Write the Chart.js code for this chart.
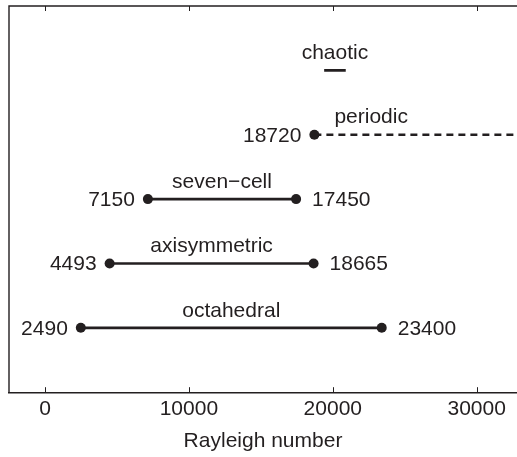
<!DOCTYPE html>
<html>
<head>
<meta charset="utf-8">
<script src="https://cdn.jsdelivr.net/npm/chart.js@4/dist/chart.umd.min.js"></script>
<style>
  html, body { margin: 0; padding: 0; background: #fff; overflow: hidden; }
  #wrap { width: 517px; height: 457px; }
</style>
</head>
<body>
<div id="wrap"><canvas id="myChart"></canvas></div>
<script>
// flow regimes, bottom row first
const regimes = ['octahedral', 'axisymmetric', 'seven\u2212cell', 'periodic', 'chaotic'];
const onsetRa = [2490, 4493, 7150, 18720, 19400];
const endRa = [23400, 18665, 17450, null, 20900]; // null = continues past the axis
const showNumbers = [true, true, true, true, false];
const tickValues = [0, 10000, 20000, 30000];

const xMin = -2500;
const xMax = 32800;
const ink = '#231f20';
const fontFamily = '"Liberation Sans", Arial, Helvetica, sans-serif';
const fontSize = 21;

const datasets = regimes.map((name, i) => {
    const open = endRa[i] === null;
    const dots = showNumbers[i];
    return {
        label: name,
        data: [
            { x: onsetRa[i], y: i + 1 },
            { x: open ? xMax : endRa[i], y: i + 1 },
        ],
        borderColor: ink,
        backgroundColor: ink,
        borderWidth: 2.6,
        borderDash: open ? [7, 5] : [],
        pointRadius: dots ? [5, open ? 0 : 5] : 0,
        pointBorderWidth: 0,
        pointBackgroundColor: ink,
    };
});

// frame, inward ticks and the text next to each regime line
const annotate = {
    id: 'annotate',
    afterDraw(chart) {
        const { ctx, chartArea, scales } = chart;
        const x = scales.x;
        const y = scales.y;
        ctx.save();
        ctx.strokeStyle = ink;
        ctx.lineWidth = 1.4;
        ctx.beginPath();
        ctx.moveTo(chartArea.left, chartArea.bottom);
        ctx.lineTo(chartArea.left, chartArea.top);
        ctx.lineTo(chartArea.right, chartArea.top);
        ctx.stroke();

        ctx.lineWidth = 1;
        tickValues.forEach((v) => {
            const px = Math.round(x.getPixelForValue(v)) + 0.5;
            ctx.beginPath();
            ctx.moveTo(px, chartArea.bottom);
            ctx.lineTo(px, chartArea.bottom - 5);
            ctx.moveTo(px, chartArea.top);
            ctx.lineTo(px, chartArea.top + 5);
            ctx.stroke();
        });

        ctx.fillStyle = ink;
        ctx.font = fontSize + 'px ' + fontFamily;
        regimes.forEach((name, i) => {
            const py = y.getPixelForValue(i + 1);
            const x0 = x.getPixelForValue(onsetRa[i]);
            const open = endRa[i] === null;
            const x1 = open ? chartArea.right : x.getPixelForValue(endRa[i]);

            ctx.textBaseline = 'alphabetic';
            if (open) {
                ctx.textAlign = 'left';
                ctx.fillText(name, x0 + 20, py - 12);
            } else {
                ctx.textAlign = 'center';
                ctx.fillText(name, (x0 + x1) / 2, py - 11);
            }

            if (showNumbers[i]) {
                ctx.textBaseline = 'middle';
                ctx.textAlign = 'right';
                ctx.fillText(String(onsetRa[i]), x0 - 13, py + 1);
                if (!open) {
                    ctx.textAlign = 'left';
                    ctx.fillText(String(endRa[i]), x1 + 16, py + 1);
                }
            }
        });
        ctx.restore();
    },
};

const ctx = document.getElementById('myChart');
const chart = new Chart(ctx, {
    type: 'line',
    data: { datasets },
    options: {
        responsive: true,
        maintainAspectRatio: false,
        animation: false,
        parsing: false,
        layout: { autoPadding: false, padding: { left: 9, top: 6, right: 0, bottom: 0 } },
        plugins: {
            legend: { display: false },
            tooltip: { enabled: false },
        },
        scales: {
            x: {
                type: 'linear',
                min: xMin,
                max: xMax,
                afterBuildTicks: (axis) => {
                    axis.ticks = tickValues.map((v) => ({ value: v }));
                },
                grid: { display: false, drawTicks: false },
                border: { display: true, color: ink, width: 1.4 },
                ticks: {
                    color: ink,
                    padding: 4,
                    maxRotation: 0,
                    font: { family: fontFamily, size: fontSize },
                    callback: (v) => String(v),
                },
                title: {
                    display: true,
                    text: 'Rayleigh number',
                    color: ink,
                    font: { family: fontFamily, size: fontSize },
                    padding: { top: 3, bottom: 3.4 },
                },
            },
            y: {
                type: 'linear',
                min: 0,
                max: 6,
                display: false,
            },
        },
    },
    plugins: [annotate],
});
</script>
</body>
</html>
